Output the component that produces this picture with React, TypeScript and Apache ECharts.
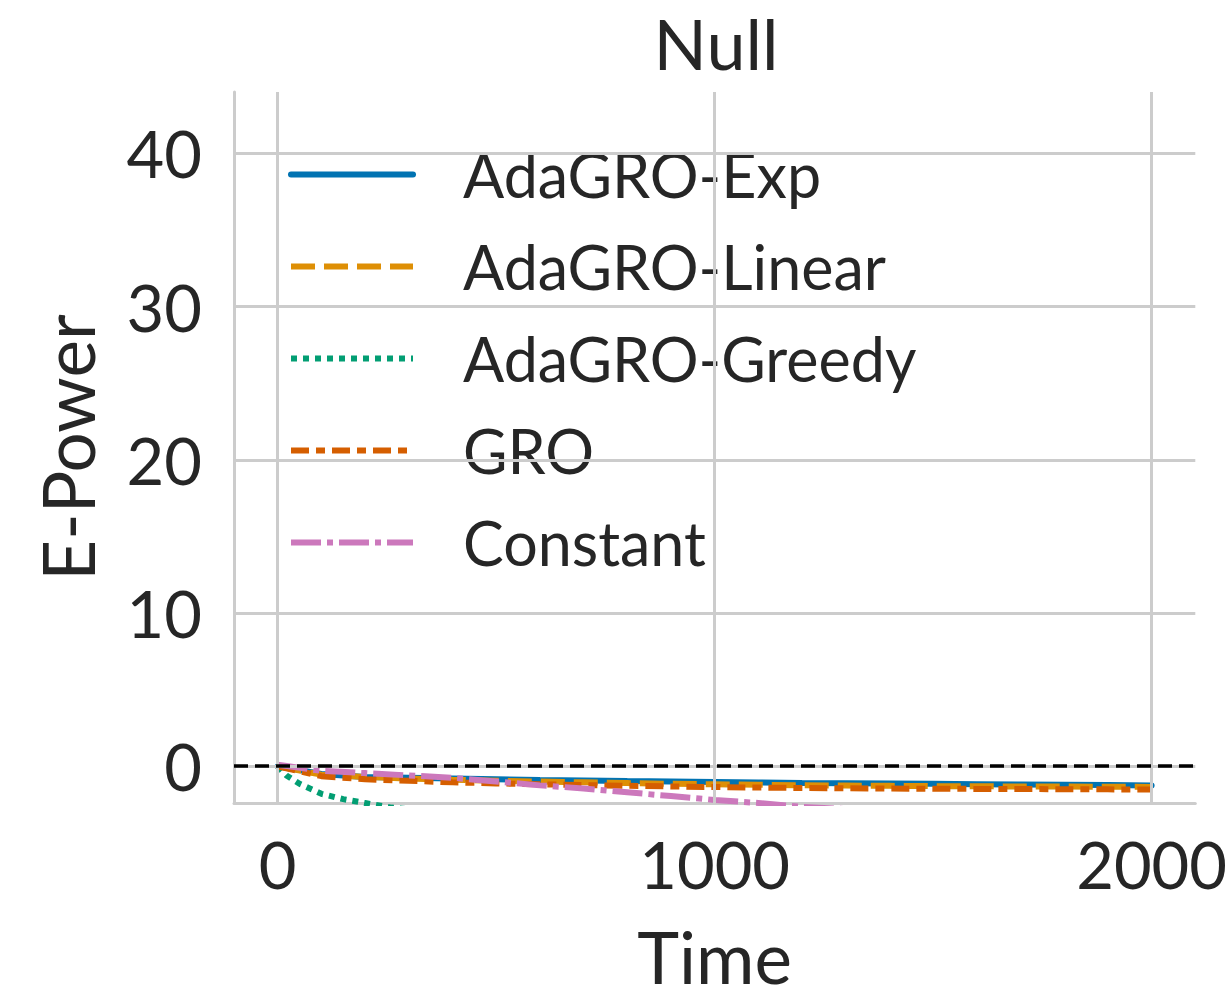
import React, { useEffect, useRef } from "react";
import * as echarts from "echarts";

// Time grid (every 100 steps) shared by the smooth curves
const timeSteps = [0, 100, 200, 300, 400, 500, 600, 700, 800, 900, 1000, 1100, 1200, 1300, 1400, 1500, 1600, 1700, 1800, 1900, 2000];

const adaExp = [0, -0.5, -0.7, -0.75, -0.8, -0.85, -0.9, -0.93, -0.97, -1.0, -1.03, -1.06, -1.09, -1.11, -1.13, -1.15, -1.17, -1.19, -1.21, -1.23, -1.25];
const adaLinear = [0, -0.55, -0.7, -0.8, -0.88, -0.95, -1.0, -1.05, -1.1, -1.15, -1.18, -1.21, -1.24, -1.26, -1.28, -1.3, -1.31, -1.32, -1.33, -1.34, -1.35];
const gro = [0, -0.65, -0.85, -0.95, -1.05, -1.12, -1.18, -1.23, -1.28, -1.32, -1.36, -1.39, -1.42, -1.44, -1.46, -1.47, -1.48, -1.49, -1.5, -1.51, -1.52];
const constant = [0.1, -0.3, -0.45, -0.6, -0.75, -1.0, -1.25, -1.45, -1.7, -1.95, -2.2, -2.4, -2.65, -2.8, -2.95, -3.1, -3.2, -3.3, -3.45, -3.55, -3.65];

// Greedy variant falls off quickly, so it is sampled more densely early on
const greedyTime = [0, 20, 50, 100, 150, 200, 260, 350, 500, 700, 1000, 1500, 2000];
const adaGreedy = [0, -0.6, -1.15, -1.8, -2.15, -2.4, -2.7, -2.95, -3.2, -3.5, -3.9, -4.4, -4.8];

const xTicks = [0, 1000, 2000];
const yTicks = [0, 10, 20, 30, 40];

const FONT = "Lato";
const TEXT = "#262626";
const GRID = "#cccccc";

const zip = (t: number[], v: number[]) => t.map((x, i) => [x, v[i]]);

export default function App() {
  const ref = useRef<HTMLDivElement>(null);

  useEffect(() => {
    if (!ref.current) return;
    const chart = echarts.init(ref.current, null, { renderer: "svg" });

    const lineSeries = (
      name: string,
      data: number[][],
      color: string,
      type: any,
      cap: "butt" | "round" = "butt"
    ) => ({
      name,
      type: "line",
      data,
      symbol: "none",
      clip: true,
      z: 3,
      lineStyle: { color, width: 6, type, cap },
      itemStyle: { color },
    });

    chart.setOption({
      animation: false,
      backgroundColor: "#ffffff",
      title: {
        text: "Null",
        left: 716,
        textAlign: "center",
        top: 0,
        padding: 0,
        textStyle: {
          fontFamily: FONT,
          fontSize: 70,
          fontWeight: "normal",
          color: TEXT,
          lineHeight: 86,
        },
      },
      grid: { left: 234, right: 32, top: 92, bottom: 177, containLabel: false },
      legend: {
        orient: "vertical",
        left: 283,
        top: 139,
        itemWidth: 122,
        itemHeight: 20,
        itemGap: 31,
        itemStyle: { opacity: 0 },
        lineStyle: { width: 6 },
        textStyle: {
          fontFamily: FONT,
          fontSize: 61,
          color: TEXT,
          lineHeight: 60,
          padding: [0, 0, 0, 45],
        },
        data: ["AdaGRO-Exp", "AdaGRO-Linear", "AdaGRO-Greedy", "GRO", "Constant"],
      },
      xAxis: {
        type: "value",
        min: -100,
        max: 2100,
        interval: 100,
        name: "Time",
        nameLocation: "middle",
        nameGap: 117,
        nameTextStyle: { fontFamily: FONT, fontSize: 71, color: TEXT, lineHeight: 72 },
        axisLine: { show: true, onZero: false, lineStyle: { color: GRID, width: 3 } },
        axisTick: { show: false },
        splitLine: { show: false },
        axisLabel: {
          fontFamily: FONT,
          fontSize: 65,
          color: TEXT,
          margin: 28,
          formatter: (v: number) => (xTicks.includes(v) ? String(v) : ""),
        },
      },
      yAxis: {
        type: "value",
        min: -2.4,
        max: 44,
        interval: 0.4,
        name: "E-Power",
        nameLocation: "middle",
        nameGap: 131,
        nameTextStyle: { fontFamily: FONT, fontSize: 71, color: TEXT },
        axisLine: { show: true, onZero: false, lineStyle: { color: GRID, width: 3 } },
        axisTick: { show: false },
        splitLine: { show: false },
        axisLabel: {
          fontFamily: FONT,
          fontSize: 65,
          color: TEXT,
          margin: 32,
          formatter: (v: number) => {
            const r = Math.round(v);
            return Math.abs(v - r) < 1e-6 && yTicks.includes(r) ? String(r) : "";
          },
        },
      },
      series: [
        {
          // major grid lines
          name: "grid",
          type: "line",
          data: [],
          silent: true,
          z: 1,
          markLine: {
            silent: true,
            symbol: "none",
            label: { show: false },
            lineStyle: { color: GRID, width: 3, type: "solid" },
            data: [
              ...xTicks.map((x) => ({ xAxis: x })),
              ...yTicks.map((y) => ({ yAxis: y })),
            ],
          },
        },
        lineSeries("AdaGRO-Exp", zip(timeSteps, adaExp), "#0173b2", "solid", "round"),
        lineSeries("AdaGRO-Linear", zip(timeSteps, adaLinear), "#de8f05", [24, 9]),
        lineSeries("AdaGRO-Greedy", zip(greedyTime, adaGreedy), "#029e73", [6, 6]),
        lineSeries("GRO", zip(timeSteps, gro), "#d55e00", [18, 7, 9, 7]),
        lineSeries("Constant", zip(timeSteps, constant), "#cc78bc", [30, 6, 6, 6]),
        {
          name: "zero",
          type: "line",
          data: [],
          silent: true,
          z: 4,
          markLine: {
            silent: true,
            symbol: "none",
            label: { show: false },
            lineStyle: { color: "#000000", width: 3.5, type: [14, 7] },
            data: [{ yAxis: 0 }],
          },
        },
      ],
    });

    return () => chart.dispose();
  }, []);

  return (
    <div
      ref={ref}
      style={{ position: "fixed", left: 0, top: 0, width: 1230, height: 997 }}
    />
  );
}
